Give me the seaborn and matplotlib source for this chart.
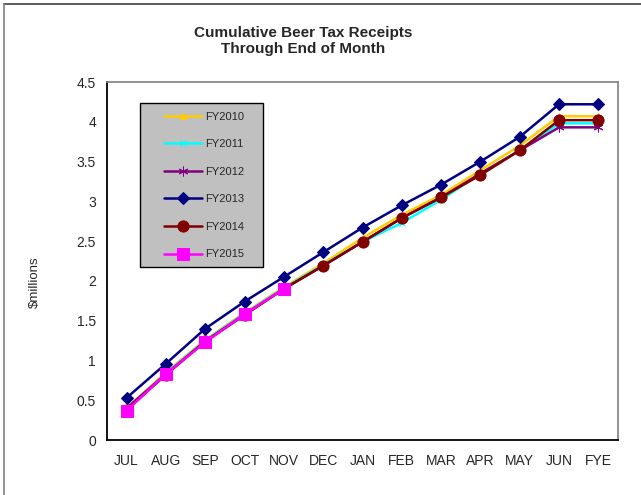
import numpy as np
import pandas as pd
import seaborn as sns
import matplotlib.pyplot as plt
from matplotlib.lines import Line2D
from matplotlib.patches import Rectangle

months = ["JUL", "AUG", "SEP", "OCT", "NOV", "DEC", "JAN", "FEB", "MAR", "APR", "MAY", "JUN", "FYE"]

fy2010 = [0.40, 0.85, 1.26, 1.60, 1.92, 2.22, 2.54, 2.83, 3.08, 3.39, 3.70, 4.07, 4.07]
fy2011 = [0.39, 0.84, 1.25, 1.59, 1.91, 2.20, 2.49, 2.73, 3.02, 3.35, 3.64, 3.98, 3.98]
fy2012 = [0.40, 0.83, 1.24, 1.58, 1.90, 2.19, 2.49, 2.79, 3.05, 3.35, 3.64, 3.93, 3.93]
fy2013 = [0.53, 0.96, 1.40, 1.74, 2.05, 2.36, 2.67, 2.95, 3.21, 3.50, 3.81, 4.22, 4.22]
fy2014 = [0.38, 0.82, 1.24, 1.57, 1.90, 2.19, 2.49, 2.79, 3.05, 3.33, 3.64, 4.02, 4.02]
fy2015 = [0.37, 0.83, 1.23, 1.58, 1.90]

series = {"FY2010": fy2010, "FY2011": fy2011, "FY2012": fy2012,
          "FY2013": fy2013, "FY2014": fy2014, "FY2015": fy2015}

styles = {
    "FY2010": dict(color="#FFCC00", marker="^", markersize=5),
    "FY2011": dict(color="#00FFFF", marker="x", markersize=5),
    "FY2012": dict(color="#800080", marker=(6, 2, 0), markersize=7),
    "FY2013": dict(color="#000080", marker="D", markersize=6),
    "FY2014": dict(color="#800000", marker="o", markersize=8),
    "FY2015": dict(color="#FF00FF", marker="s", markersize=8),
}

sns.set_style("white")
plt.rcParams["font.family"] = ["Liberation Sans", "DejaVu Sans"]

fig = plt.figure(figsize=(6.41, 4.95), dpi=100)
ax = fig.add_axes([107 / 641, 55 / 495, 511 / 641, 358 / 495])

# legend box (Excel style: gray fill, drawn behind entries)
ax.add_patch(Rectangle((0.0646, 0.483), 0.2407, 0.458, transform=ax.transAxes,
                       facecolor="#C0C0C0", edgecolor="black", linewidth=1.0, zorder=1))

for name, vals in series.items():
    df = pd.DataFrame({"x": np.arange(len(vals)), "y": vals})
    st = styles[name]
    sns.lineplot(data=df, x="x", y="y", ax=ax, color=st["color"], marker=st["marker"],
                 markersize=st["markersize"], markeredgecolor=st["color"],
                 markerfacecolor=st["color"], linewidth=1.8, label=name, zorder=3)

ax.set_xlim(-0.5, len(months) - 0.5)
ax.set_ylim(0, 4.5)
ax.set_yticks(np.arange(0, 4.51, 0.5))
ax.set_yticklabels(["0", "0.5", "1", "1.5", "2", "2.5", "3", "3.5", "4", "4.5"], fontsize=10)
ax.set_xticks(np.arange(-0.5, len(months), 1))
ax.set_xticklabels([])
ax.set_xticks(np.arange(len(months)), minor=True)
ax.set_xticklabels(months, minor=True, fontsize=10)
ax.tick_params(axis="x", which="major", length=5, width=1, color="black", direction="out")
ax.tick_params(axis="x", which="minor", length=0, pad=10)
ax.tick_params(axis="y", length=5, width=1, color="black", direction="out", pad=3)
ax.set_xlabel("")
ax.set_ylabel("\\$millions", fontsize=9.5)
ax.yaxis.set_label_coords(-0.129, 0.44)

for side in ["left", "bottom"]:
    ax.spines[side].set_color("black")
    ax.spines[side].set_linewidth(1.3)
for side in ["top", "right"]:
    ax.spines[side].set_visible(True)
    ax.spines[side].set_color("#808080")
    ax.spines[side].set_linewidth(1.2)

fig.text(303 / 641, 1 - 41 / 495, "Cumulative Beer Tax Receipts\nThrough End of Month",
         fontsize=11, fontweight="bold", ha="center", va="center", linespacing=1.25)

leg = ax.legend(loc="upper left", bbox_to_anchor=(0.1115, 0.917), fontsize=8,
                handlelength=3.4, labelspacing=1.58, borderpad=0,
                handletextpad=0.3, borderaxespad=0, frameon=False)
leg.set_zorder(4)

fig.add_artist(Line2D([4 / 641, 1.0], [1 - 4 / 495, 1 - 4 / 495], color="#404040", linewidth=1.2))
fig.add_artist(Line2D([4 / 641, 4 / 641], [0, 1 - 4 / 495], color="#808080", linewidth=1.2))

fig.savefig("out.png", dpi=100)
